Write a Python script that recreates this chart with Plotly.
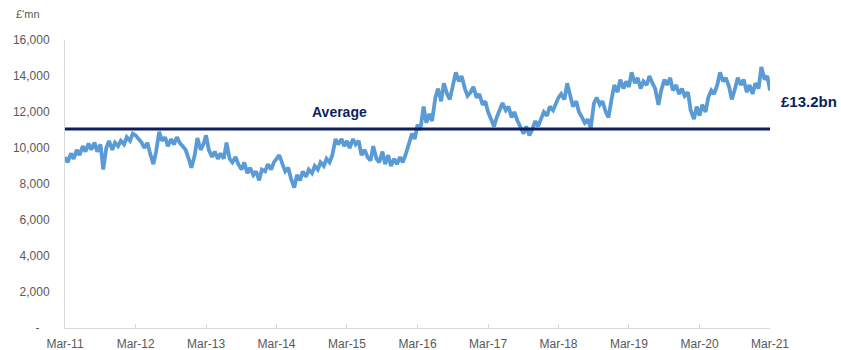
import pandas as pd
import plotly.graph_objects as go

# Outstanding balance, £ million, semi-monthly readings Mar-2011 to Mar-2021
balance = [
    9500, 9200, 9700, 9400, 9900, 9600, 10100, 9800, 10250, 9900, 10300, 9800,
    10200, 8800, 10000, 10400, 9900, 10300, 10100, 10400, 10200, 10600, 10400, 10800,
    10700, 10500, 10300, 10000, 10300, 9700, 9100, 9800, 10900, 10400, 10600, 10100,
    10500, 10200, 10600, 10300, 10100, 9900, 9400, 8900, 9600, 10550, 9900, 10200,
    10700, 9900, 9500, 9800, 9400, 9700, 9400, 10300, 9400, 9200, 9500, 9100,
    8800, 9200, 8600, 8900, 8500, 8700, 8200, 8800, 8700, 9100, 8800, 9200,
    9400, 9600, 9100, 8700, 8900, 8300, 7800, 8500, 8200, 8700, 8400, 8800,
    8600, 9000, 8800, 9200, 9000, 9400, 9200, 9600, 10500, 10200, 10500, 10100,
    10400, 10000, 10500, 10200, 10400, 9600, 9900, 9500, 9300, 10100, 9400, 9200,
    9800, 9100, 9600, 9000, 9400, 9100, 9500, 9200, 9700, 10200, 10800, 10500,
    11300, 11000, 12300, 11400, 11900, 11500, 12800, 13300, 12600, 13600, 13000, 12700,
    13500, 14200, 13700, 14000, 13300, 12900, 13100, 13400, 12800, 13000, 12400, 12600,
    12000, 11600, 11200, 11700, 12200, 12500, 12100, 12300, 11700, 12000, 11500, 11200,
    10800, 11200, 10700, 11000, 11500, 11200, 11700, 12000, 11800, 12300, 12100, 12500,
    12800, 13000, 12700, 13600, 12900, 12300, 12600, 12000, 11700, 11400, 11600, 11100,
    12500, 12800, 12400, 12600, 12000, 11700, 12700, 13500, 13100, 13800, 13300, 13700,
    13400, 14200, 13600, 13900, 13300, 13700, 13500, 14000, 13600, 13300, 12400, 13200,
    13800, 13500, 13900, 13200, 13500, 13000, 13300, 12900, 13100, 12100, 11600, 12300,
    11800, 12400, 12000, 12800, 13200, 13000, 13500, 14200, 13700, 13900, 13400, 12700,
    13300, 13900, 13500, 13800, 13100, 13500, 13000, 13600, 13300, 14500, 13800, 14000,
    13200,
]
dates = pd.date_range("2011-03-01", periods=len(balance), freq="SMS")

average_value = 11050
average_label = "Average"
latest_label = "£13.2bn"
unit_label = "£'mn"

y_ticks = [0, 2000, 4000, 6000, 8000, 10000, 12000, 14000, 16000]
# accounting-style zero: a dash padded in from the right edge
y_tick_text = ["-\u00a0\u00a0\u00a0" if v == 0 else f"{v:,}" for v in y_ticks]

LINE_BLUE = "#5b9bd5"
NAVY = "#0d1f5c"
GREY_TEXT = "#595959"
AXIS_GREY = "#d9d9d9"
FONT = "Liberation Sans, Arial, sans-serif"

fig = go.Figure()

fig.add_trace(go.Scatter(
    x=dates, y=balance, mode="lines",
    line=dict(color=LINE_BLUE, width=3.8),
    hoverinfo="x+y", showlegend=False,
))

fig.add_trace(go.Scatter(
    x=[dates[0], dates[-1]], y=[average_value, average_value], mode="lines",
    line=dict(color=NAVY, width=3),
    hoverinfo="skip", showlegend=False,
))

fig.add_annotation(
    x=pd.Timestamp("2015-01-20"), y=average_value, yshift=17,
    text=f"<b>{average_label}</b>", showarrow=False,
    font=dict(family=FONT, size=14, color=NAVY),
)
fig.add_annotation(
    x=dates[-1], y=balance[-1], xanchor="left", xshift=9, yshift=-11,
    text=f"<b>{latest_label}</b>", showarrow=False,
    font=dict(family=FONT, size=15, color=NAVY),
)
fig.add_annotation(
    xref="paper", yref="paper", x=-0.052, y=1.0, yshift=18,
    text=unit_label, showarrow=False, xanchor="center", yanchor="bottom",
    font=dict(family=FONT, size=11, color=GREY_TEXT),
)

fig.update_layout(
    width=841, height=350,
    margin=dict(l=65, r=71, t=40, b=22),
    paper_bgcolor="white", plot_bgcolor="white",
    font=dict(family=FONT, size=12, color=GREY_TEXT),
    xaxis=dict(
        range=[dates[0], dates[-1]],
        tick0="2011-03-01", dtick="M12", tickformat="%b-%y",
        showgrid=False, zeroline=False,
        showline=True, linecolor=AXIS_GREY, linewidth=1,
        ticks="inside", ticklen=4, tickcolor=AXIS_GREY,
        ticklabelstandoff=5, automargin=False,
        tickfont=dict(size=12, color=GREY_TEXT),
    ),
    yaxis=dict(
        range=[0, 16000],
        tickvals=y_ticks, ticktext=y_tick_text,
        showgrid=False, zeroline=False,
        showline=True, linecolor=AXIS_GREY, linewidth=1,
        ticks="", ticklabelstandoff=12, automargin=False,
        tickfont=dict(size=12, color=GREY_TEXT),
    ),
)

fig.write_html("out.html")
